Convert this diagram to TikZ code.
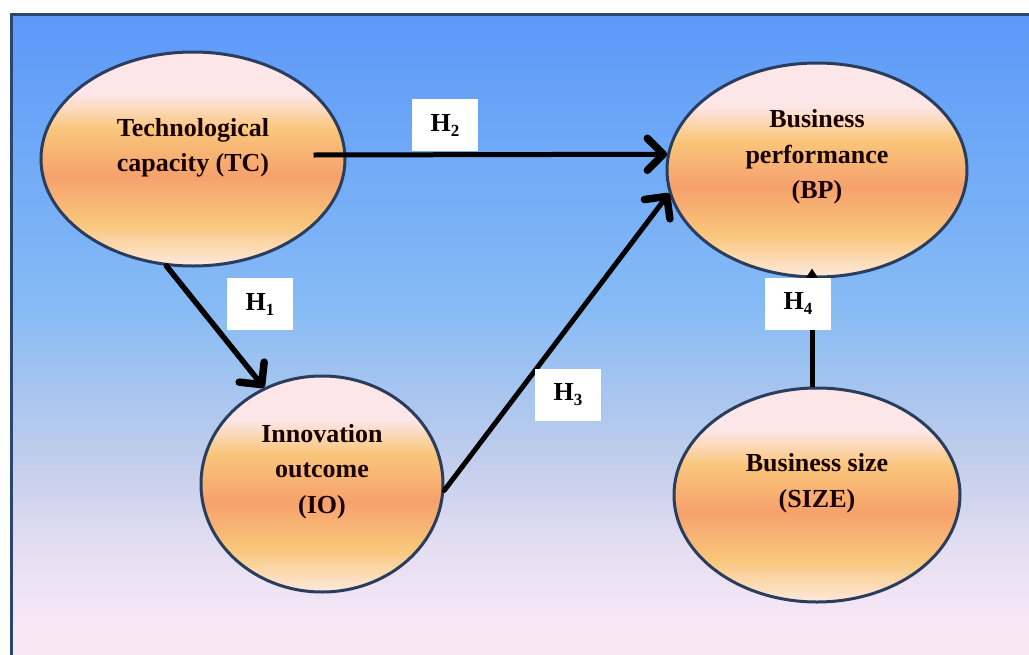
\documentclass[tikz,border=0pt]{standalone}
\usepackage{fontspec}
\setmainfont{Liberation Serif}
\usetikzlibrary{shapes.geometric,arrows.meta}
\definecolor{bgtop}{HTML}{5C99F8}
\definecolor{bgmid}{HTML}{86BBF5}
\definecolor{bglow}{HTML}{C0CDEC}
\definecolor{bglav}{HTML}{E2DDF1}
\definecolor{bgbot}{HTML}{F8E8F6}
\definecolor{elpale}{HTML}{FCE6E8}
\definecolor{elyel}{HTML}{F9C67A}
\definecolor{elor}{HTML}{F6A16D}
\definecolor{elbot}{HTML}{FDE9DE}
\definecolor{frame}{HTML}{2C4670}
\definecolor{edge}{HTML}{2A3D5C}
\pgfdeclareverticalshading{bgshade}{100bp}{color(0bp)=(bgbot); color(25bp)=(bgbot); color(28bp)=(bgbot); color(34.5bp)=(bglav); color(41bp)=(bglow); color(52.5bp)=(bgmid); color(75bp)=(bgtop); color(100bp)=(bgtop)}
\pgfdeclareverticalshading{blobshade}{100bp}{color(0bp)=(elbot); color(25bp)=(elbot); color(35bp)=(elyel); color(46bp)=(elor); color(57bp)=(elyel); color(65bp)=(elpale); color(75bp)=(elpale); color(100bp)=(elpale)}
\newcommand{\hsub}[1]{H\raisebox{-5pt}{\fontsize{17}{17}\selectfont #1}}
\tikzset{
  blob/.style={ellipse, draw=edge, line width=3pt, shading=blobshade, inner sep=0pt},
  blobtext/.style={align=center, font=\fontsize{26}{35.5}\selectfont\bfseries, text=black!90!red, inner sep=0pt},
  hbox/.style={fill=white, minimum width=66pt, minimum height=52pt, inner sep=0pt, font=\fontsize{26}{30}\selectfont\bfseries},
  conn/.style={line width=5pt, black, line cap=round, line join=round},
  barb/.style={-{Straight Barb[length=16pt 0,width=32pt 0,line width=7.5pt 0,line cap=round,line join=round]}},
}
\begin{document}
\begin{tikzpicture}[x=1pt,y=-1pt]
\path[use as bounding box] (0,0) rectangle (1029,654);
\begin{scope}
\clip (0,0) rectangle (1029,654);
\fill[white] (0,0) rectangle (1029,654);
\shade[shading=bgshade] (11.5,14) rectangle (1045,665);
\draw[frame, line width=3pt] (11.5,670) -- (11.5,14) -- (1045,14);
\end{scope}

\node[blob, minimum width=304pt, minimum height=214pt] (tc) at (193,159) {};
\node[blob, minimum width=300pt, minimum height=214pt] (bp) at (817,170) {};
\node[blob, minimum width=242pt, minimum height=216pt] (io) at (322,484) {};
\node[blob, minimum width=286pt, minimum height=214pt] (size) at (817,495) {};

\node[blobtext] (tct) at ([yshift=11pt]tc.center) {Technological\\capacity (TC)};
\node[blobtext] (bpt) at ([yshift=13pt]bp.center) {Business\\performance\\(BP)};
\node[blobtext] (iot) at ([yshift=12.5pt]io.center) {Innovation\\outcome\\(IO)};
\node[blobtext] (sizet) at ([yshift=12pt]size.center) {Business size\\(SIZE)};

\draw[conn, barb, line cap=butt] ([xshift=-33pt,yshift=4pt]tc.east) -- (bp.174);
\draw[conn, barb, line width=5.5pt] (tc.256) -- (io.121);
\draw[conn, barb] (io.-3) -- (bp.189);
\draw[conn, line cap=butt, -{Triangle[length=9pt,width=11pt]}] ([xshift=-5pt]size.north) -- ([xshift=-5pt,yshift=10pt]bp.south);

\node[hbox] (h2) at (445,125) {\hsub{2}};
\node[hbox] (h1) at (260,304) {\hsub{1}};
\node[hbox] (h3) at (568,394.5) {\hsub{3}};
\node[hbox] (h4) at (798,303.5) {\hsub{4}};
\end{tikzpicture}
\end{document}
